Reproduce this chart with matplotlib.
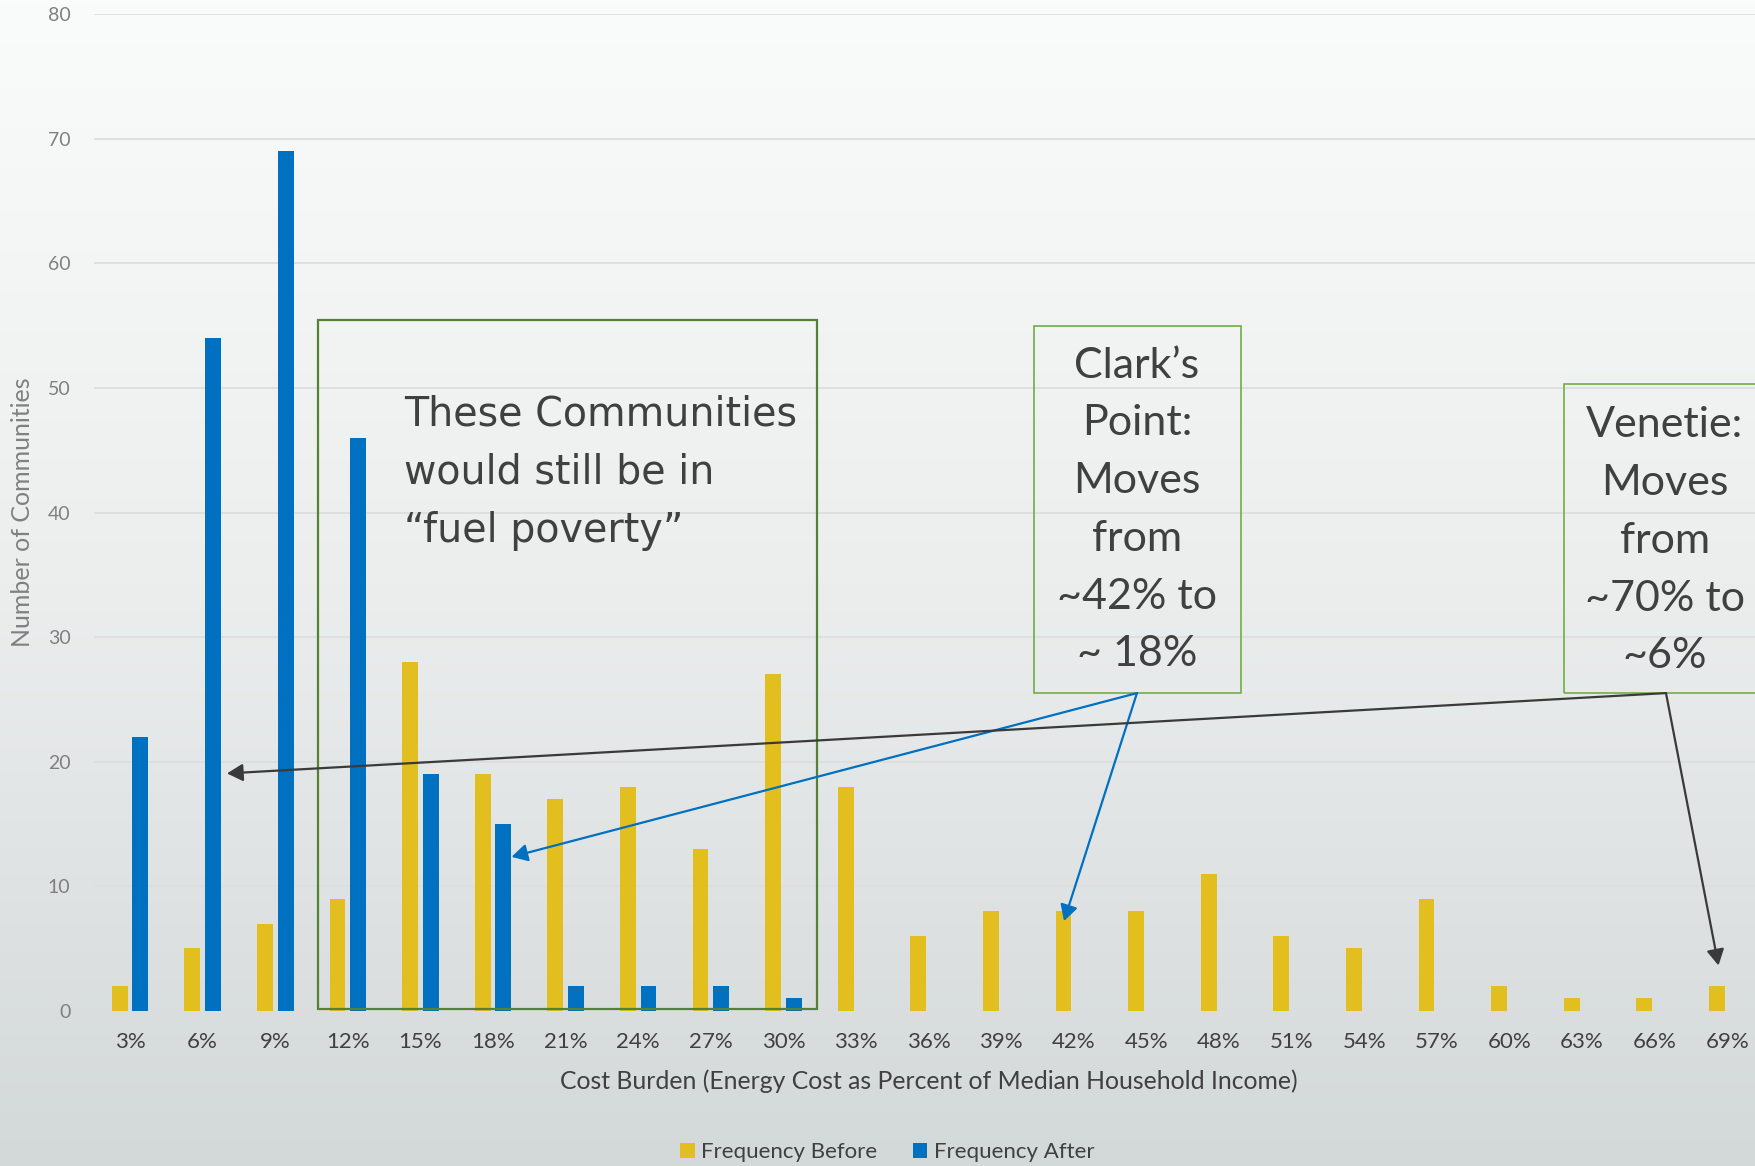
import numpy as np
import matplotlib.pyplot as plt
from matplotlib.patches import Rectangle
from matplotlib.colors import LinearSegmentedColormap

# Data
categories = ['3%', '6%', '9%', '12%', '15%', '18%', '21%', '24%', '27%', '30%',
              '33%', '36%', '39%', '42%', '45%', '48%', '51%', '54%', '57%', '60%',
              '63%', '66%', '69%']
freq_before = [2, 5, 7, 9, 28, 19, 17, 18, 13, 27, 18, 6, 8, 8, 8, 11, 6, 5, 9, 2, 1, 1, 2]
freq_after = [22, 54, 69, 46, 19, 15, 2, 2, 2, 1, 0, 0, 0, 0, 0, 0, 0, 0, 0, 0, 0, 0, 0]
y_ticks = [0, 10, 20, 30, 40, 50, 60, 70, 80]

yellow = '#E3BE1F'
blue = '#0070C0'
dark = '#404040'
gray = '#808080'

plt.rcParams['font.family'] = ['Lato', 'DejaVu Sans']

fig = plt.figure(figsize=(17.55, 11.66), dpi=100)

# background gradient (light at top, grey at bottom)
bg = fig.add_axes([0, 0, 1, 1], zorder=0)
cmap = LinearSegmentedColormap.from_list('bg', ['#D3D8D9', '#ECEEEE', '#FAFBFB'])
grad = np.linspace(0, 1, 256).reshape(-1, 1)
bg.imshow(grad, aspect='auto', cmap=cmap, origin='lower', extent=[0, 1, 0, 1])
bg.axis('off')

ax = fig.add_axes([94 / 1755, 155.3 / 1166, 1661 / 1755, 996.4 / 1166], zorder=1)
ax.patch.set_alpha(0)

x = np.arange(len(categories))
ax.bar(x - 0.142, freq_before, 0.22, color=yellow, label='Frequency Before', zorder=3)
ax.bar(x + 0.142, freq_after, 0.22, color=blue, label='Frequency After', zorder=3)

ax.set_xlim(-0.496, 22.383)
ax.set_ylim(0, 80)
ax.set_xticks(x)
ax.set_xticklabels(categories)
ax.set_yticks(y_ticks)
ax.yaxis.grid(True, color='#DCDEDF', lw=1.3)
ax.set_axisbelow(True)
for s in ax.spines.values():
    s.set_visible(False)
ax.tick_params(axis='x', length=0, pad=15, labelsize=16, labelcolor=dark)
ax.tick_params(axis='y', length=0, pad=17, labelsize=14, labelcolor=gray)

ax.set_xlabel('Cost Burden (Energy Cost as Percent of Median Household Income)',
              fontsize=17.8, color=dark)
ax.set_ylabel('Number of Communities', fontsize=18, color=gray)
ax.xaxis.set_label_coords((929 - 94) / 1661, -(1081 - 1010.7) / 996.4)
ax.xaxis.label.set_va('center')
ax.yaxis.set_label_coords(-(94 - 23) / 1661, 0.5)
ax.yaxis.label.set_va('center')

# green box around the communities still in fuel poverty
ax.add_patch(Rectangle((2.594, 0.1), 9.459 - 2.594, 55.48 - 0.1, fill=False,
                       edgecolor='#548235', lw=1.6, zorder=4))
for i, line in enumerate(['These Communities', 'would still be in', '\u201cfuel poverty\u201d']):
    ax.text(3.774, 47.0 - i * 4.67, line, fontsize=28.5, color=dark, va='baseline',
            ha='left', family='DejaVu Sans', zorder=5)

# callout boxes
ax.add_patch(Rectangle((12.452, 25.5), 15.303 - 12.452, 55.0 - 25.5, fill=False,
                       edgecolor='#70AD47', lw=1.2, zorder=4))
ax.add_patch(Rectangle((19.75, 25.5), 22.53 - 19.75, 50.33 - 25.5, fill=False,
                       edgecolor='#70AD47', lw=1.2, zorder=4, clip_on=False))

clark_lines = ['Clark\u2019s', 'Point:', 'Moves', 'from', '~42% to', '~ 18%']
for i, line in enumerate(clark_lines):
    ax.text(13.87, 51.8 - i * 4.64, line, fontsize=31, color=dark,
            ha='center', va='center', zorder=5)

venetie_lines = ['Venetie:', 'Moves', 'from', '~70% to', '~6%']
for i, line in enumerate(venetie_lines):
    ax.text(21.14, 47.0 - i * 4.64, line, fontsize=31, color=dark,
            ha='center', va='center', zorder=5, clip_on=False)

# arrows
def arrow(tip, start, color):
    ax.annotate('', xy=tip, xytext=start, zorder=6,
                arrowprops=dict(arrowstyle='-|>,head_length=0.4,head_width=0.22',
                                mutation_scale=24, lw=1.6, color=color,
                                shrinkA=0, shrinkB=0))

arrow((5.255, 12.35), (13.87, 25.5), blue)
arrow((12.865, 7.2), (13.87, 25.5), blue)
arrow((1.336, 19.05), (21.157, 25.5), '#3A3A3A')
arrow((21.88, 3.63), (21.157, 25.5), '#3A3A3A')

fig.legend(loc='center', bbox_to_anchor=(887.5 / 1755, 14 / 1166), ncol=2,
           frameon=False, fontsize=16, handlelength=0.65, handleheight=0.65,
           handletextpad=0.3, columnspacing=1.6, labelcolor=dark)

fig.savefig('out.png', dpi=100)
